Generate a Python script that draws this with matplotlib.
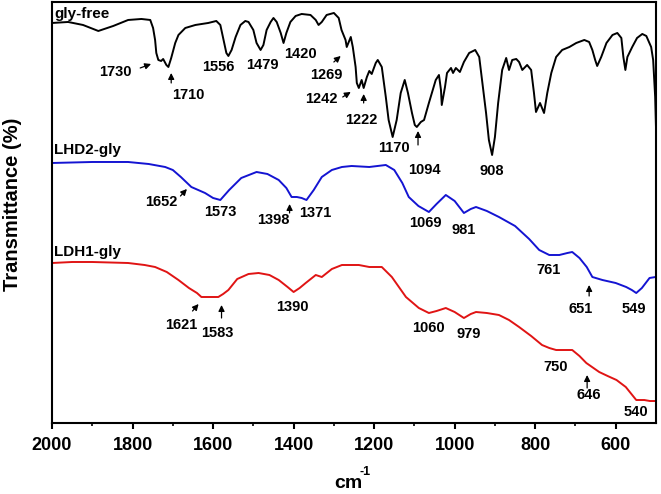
import matplotlib
matplotlib.use("Agg")
import matplotlib.pyplot as plt

plt.rcParams['font.family'] = ['Liberation Sans', 'DejaVu Sans']

# (wavenumber cm-1, relative transmittance)
gly_free = [(2000, 400), (1960, 401), (1923, 398), (1885, 392), (1848, 397), (1811, 403), (1778, 404),
            (1756, 403), (1749, 395), (1744, 383), (1741, 370), (1736, 363), (1729, 362), (1724, 364),
            (1716, 358), (1711, 356), (1704, 365), (1694, 380), (1686, 388), (1669, 395), (1644, 398),
            (1612, 400), (1592, 402), (1582, 398), (1574, 383), (1567, 370), (1562, 367), (1554, 373),
            (1544, 386), (1532, 398), (1520, 402), (1512, 401), (1500, 393), (1492, 380), (1482, 373),
            (1475, 378), (1467, 393), (1457, 401), (1450, 405), (1442, 401), (1432, 390), (1425, 380),
            (1418, 390), (1408, 401), (1395, 407), (1380, 409), (1358, 408), (1345, 403), (1338, 398),
            (1330, 401), (1318, 408), (1300, 410), (1288, 405), (1281, 393), (1271, 383), (1268, 376),
            (1263, 381), (1258, 386), (1253, 376), (1246, 356), (1243, 340), (1238, 335), (1231, 343),
            (1226, 335), (1218, 346), (1212, 352), (1206, 349), (1196, 360), (1191, 363), (1181, 356),
            (1171, 326), (1164, 303), (1154, 286), (1144, 303), (1134, 330), (1124, 343), (1116, 330),
            (1106, 310), (1099, 298), (1094, 296), (1084, 301), (1076, 303), (1064, 320), (1047, 343),
            (1039, 348), (1034, 333), (1032, 318), (1024, 336), (1019, 350), (1009, 355), (1004, 350),
            (997, 355), (987, 351), (977, 361), (964, 370), (949, 373), (939, 366), (932, 343),
            (922, 310), (915, 283), (907, 268), (900, 286), (892, 320), (882, 353), (872, 365),
            (865, 353), (857, 363), (847, 364), (840, 361), (832, 353), (820, 358), (810, 353),
            (803, 330), (798, 311), (788, 320), (778, 310), (770, 330), (760, 350), (748, 366),
            (733, 373), (715, 376), (698, 380), (678, 383), (666, 381), (658, 373), (651, 363),
            (646, 357), (636, 366), (623, 380), (608, 388), (596, 390), (586, 385), (581, 366),
            (576, 353), (571, 366), (559, 376), (547, 385), (534, 389), (524, 387), (512, 376),
            (507, 363), (502, 326), (500, 296)]

lhd2_gly = [(2000, 260), (1900, 261), (1811, 261), (1760, 259), (1719, 256), (1700, 253), (1680, 246),
            (1654, 236), (1620, 230), (1600, 225), (1582, 223), (1560, 233), (1530, 245), (1492, 251),
            (1465, 249), (1437, 243), (1418, 235), (1405, 226), (1392, 226), (1380, 225), (1368, 223),
            (1350, 233), (1330, 246), (1305, 253), (1280, 256), (1256, 257), (1212, 256), (1171, 258),
            (1150, 253), (1130, 240), (1114, 226), (1090, 217), (1064, 211), (1045, 219), (1022, 228),
            (1000, 222), (977, 210), (960, 214), (947, 216), (920, 212), (890, 206), (850, 197),
            (815, 184), (790, 173), (765, 168), (740, 168), (720, 170), (708, 171), (690, 165),
            (672, 156), (658, 146), (633, 143), (600, 140), (574, 136), (560, 133), (549, 130),
            (535, 135), (516, 145), (501, 146)]

ldh1_gly = [(2000, 160), (1950, 161), (1900, 161), (1811, 160), (1770, 158), (1744, 156), (1715, 151),
            (1686, 143), (1660, 135), (1640, 130), (1629, 126), (1600, 126), (1587, 126), (1575, 129),
            (1562, 133), (1540, 144), (1512, 149), (1487, 150), (1460, 148), (1437, 143), (1415, 136),
            (1400, 131), (1385, 135), (1370, 140), (1345, 148), (1330, 146), (1305, 154), (1280, 158),
            (1238, 158), (1212, 156), (1181, 156), (1156, 146), (1121, 126), (1089, 115), (1064, 110),
            (1045, 112), (1022, 115), (1000, 111), (977, 105), (960, 109), (947, 111), (920, 110),
            (890, 108), (865, 103), (840, 96), (810, 87), (783, 78), (765, 75), (748, 73), (725, 73),
            (708, 73), (690, 67), (673, 60), (641, 51), (620, 47), (598, 43), (575, 36), (549, 23),
            (529, 23), (515, 22), (501, 22)]

peaks_gf = ['1730', '1710', '1556', '1479', '1420', '1269', '1242', '1222', '1170', '1094', '908']
peaks_lhd2 = ['1652', '1573', '1398', '1371', '1069', '981', '761', '651', '549']
peaks_ldh1 = ['1621', '1583', '1390', '1060', '979', '750', '646', '540']

fig = plt.figure(figsize=(6.61, 4.94), dpi=100)
ax = fig.add_axes([0.0787, 0.1437, 0.9137, 0.8523])

for data, col in [(gly_free, 'black'), (lhd2_gly, '#1414d2'), (ldh1_gly, '#e01414')]:
    wn, t = zip(*data)
    ax.plot(wn, t, color=col, lw=1.4, solid_joinstyle='round')

ax.set_xlim(2000, 500)
ax.set_ylim(0, 421)
ax.set_yticks([])
ax.set_xticks([2000, 1800, 1600, 1400, 1200, 1000, 800, 600])
ax.set_xticks(range(1900, 500, -200), minor=True)
ax.tick_params(axis='x', which='major', length=4, width=1.5, labelsize=13, pad=6)
ax.tick_params(axis='x', which='minor', length=2.5, width=1.2)
for lab in ax.get_xticklabels():
    lab.set_fontweight('bold')
for s in ax.spines.values():
    s.set_linewidth(1.5)

# axis titles
fig.text(348 / 661, 1 - 483 / 494, 'cm', fontsize=14, fontweight='bold', ha='center', va='center')
fig.text(359 / 661, 1 - 472 / 494, '-1', fontsize=9, fontweight='bold', ha='left', va='center')
ax.set_ylabel('Transmittance (%)', fontsize=14.5, fontweight='bold')
ax.yaxis.set_label_coords(-0.05, 0.52)

# series names
kw = dict(fontsize=11, fontweight='bold', ha='left', va='center')
ax.text(1995, 409, 'gly-free', **kw)
ax.text(1995, 273, 'LHD2-gly', **kw)
ax.text(1995, 171, 'LDH1-gly', **kw)

# peak labels (text position)
lab_pos = {
    'gf': [(1843, 351), (1661, 328), (1587, 356), (1477, 358), (1383, 369), (1320, 348), (1330, 324),
           (1233, 303), (1151, 275), (1076, 253), (907, 252)],
    'lhd2': [(1729, 221), (1582, 211), (1450, 203), (1345, 210), (1073, 200), (977, 193), (768, 153),
             (688, 114), (554, 114)],
    'ldh1': [(1679, 98), (1589, 90), (1402, 116), (1066, 95), (964, 89), (750, 56), (666, 28), (549, 11)],
}
for key, names in [('gf', peaks_gf), ('lhd2', peaks_lhd2), ('ldh1', peaks_ldh1)]:
    for name, (x, y) in zip(names, lab_pos[key]):
        ax.text(x, y, name, fontsize=10.5, fontweight='bold', ha='center', va='center')

# small arrows (tail, head)
arrows = [
    ((1781, 355), (1754, 359)),   # 1730
    ((1704, 340), (1704, 350)),   # 1710
    ((1300, 361), (1283, 367)),   # 1269
    ((1278, 326), (1258, 331)),   # 1242
    ((1226, 320), (1226, 329)),   # 1222
    ((1091, 278), (1091, 292)),   # 1094
    ((1681, 227), (1665, 234)),   # 1652
    ((1410, 210), (1410, 219)),   # 1398
    ((666, 127), (666, 138)),     # 651
    ((1651, 112), (1636, 119)),   # 1621
    ((1579, 105), (1579, 118)),   # 1583
    ((671, 35), (671, 48)),       # 646
]
for start, end in arrows:
    ax.annotate('', xy=end, xytext=start,
                arrowprops=dict(arrowstyle='-|>', color='black', lw=0.9, mutation_scale=9,
                                shrinkA=0, shrinkB=0))

fig.savefig('out.png', dpi=100)
